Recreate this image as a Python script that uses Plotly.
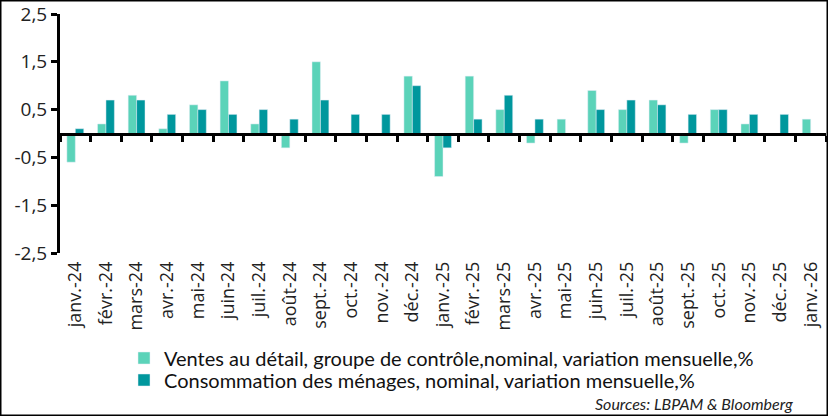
import plotly.graph_objects as go

# mois (axe des catégories)
months = ["janv.-24", "févr.-24", "mars-24", "avr.-24", "mai-24", "juin-24",
          "juil.-24", "août-24", "sept.-24", "oct.-24", "nov.-24", "déc.-24",
          "janv.-25", "févr.-25", "mars-25", "avr.-25", "mai-25", "juin-25",
          "juil.-25", "août-25", "sept.-25", "oct.-25", "nov.-25", "déc.-25",
          "janv.-26"]

# ventes au détail, groupe de contrôle, variation mensuelle %
retail = [-0.6, 0.2, 0.8, 0.1, 0.6, 1.1, 0.2, -0.3, 1.5, 0.0, 0.0, 1.2,
          -0.9, 1.2, 0.5, -0.2, 0.3, 0.9, 0.5, 0.7, -0.2, 0.5, 0.2, 0.0, 0.3]

# consommation des ménages, variation mensuelle %
consumption = [0.1, 0.7, 0.7, 0.4, 0.5, 0.4, 0.5, 0.3, 0.7, 0.4, 0.4, 1.0,
               -0.3, 0.3, 0.8, 0.3, 0.0, 0.5, 0.7, 0.6, 0.4, 0.5, 0.4, 0.4, None]

y_ticks = [-2.5, -1.5, -0.5, 0.5, 1.5, 2.5]
y_ticktext = ["-2,5", "-1,5", "-0,5", "0,5", "1,5", "2,5"]

LIGHT = "#5BD3B9"
DARK = "#00979D"

fig = go.Figure()

fig.add_trace(go.Bar(
    x=months, y=retail,
    name="Ventes au détail, groupe de contrôle,nominal, variation mensuelle,%",
    marker_color=LIGHT, legend="legend"
))
fig.add_trace(go.Bar(
    x=months, y=consumption,
    name="Consommation des ménages, nominal, variation mensuelle,%",
    marker_color=DARK, legend="legend2"
))
# trace invisible pour porter l'axe du zéro (ligne + graduations)
fig.add_trace(go.Scatter(
    x=months, y=[0] * len(months), xaxis="x2",
    mode="markers", marker_opacity=0, showlegend=False, hoverinfo="skip"
))

# cadre autour de la figure (marges en pixels -> coordonnées papier)
W, H = 828, 416
ml, mr, mt, mb = 60, 2, 14, 163
pw, ph = W - ml - mr, H - mt - mb
fig.add_shape(
    type="rect", xref="paper", yref="paper",
    x0=-ml / pw, x1=1 + mr / pw, y0=-mb / ph, y1=1 + mt / ph,
    line=dict(color="black", width=3), layer="above"
)

fig.add_annotation(
    text="<i>Sources: LBPAM &amp; Bloomberg</i>",
    xref="paper", yref="paper",
    x=(795 - ml) / pw, y=(253 - 403) / ph,
    xanchor="right", yanchor="middle", showarrow=False,
    font=dict(family="Lato, Open Sans, sans-serif", size=16, color="#222")
)

legend_style = dict(
    orientation="v", xanchor="left", yanchor="middle",
    x=(124 - ml) / pw,
    font=dict(family="Lato, sans-serif", size=20, color="#111"),
    itemwidth=30, bgcolor="rgba(0,0,0,0)"
)

fig.update_layout(
    width=W, height=H,
    margin=dict(l=ml, r=mr, t=mt, b=mb, autoexpand=False),
    plot_bgcolor="white", paper_bgcolor="white",
    barmode="group", bargap=0.45, bargroupgap=0,
    font=dict(family="Open Sans, sans-serif", color="#222"),
    legend=dict(legend_style, y=(253 - 358) / ph),
    legend2=dict(legend_style, y=(253 - 380) / ph),
    xaxis=dict(
        type="category", categoryorder="array", categoryarray=months,
        range=[-0.5, len(months) - 0.5], automargin=False,
        showline=False, ticks="", tickangle=-90, ticklabelstandoff=4,
        tickfont=dict(family="Open Sans, sans-serif", size=18), showgrid=False
    ),
    xaxis2=dict(
        type="category", categoryorder="array", categoryarray=months,
        overlaying="x", matches="x", anchor="free", position=0.5,
        showline=True, linecolor="black", linewidth=3,
        ticks="outside", tickson="boundaries", ticklen=6, tickwidth=3, tickcolor="black",
        showticklabels=False, showgrid=False
    ),
    yaxis=dict(
        range=[-2.5, 2.5], tickvals=y_ticks, ticktext=y_ticktext,
        automargin=False,
        showline=True, linecolor="black", linewidth=3,
        ticks="outside", ticklen=6, tickwidth=3, tickcolor="black",
        showgrid=False, zeroline=False,
        tickfont=dict(family="Open Sans, sans-serif", size=19)
    ),
)

fig.write_html("out.html", config={"displayModeBar": False},
               post_script="document.body.style.margin='0px';")
